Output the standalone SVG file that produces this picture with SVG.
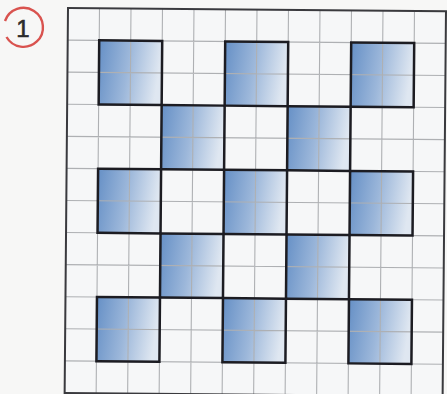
<svg xmlns="http://www.w3.org/2000/svg" width="447" height="394" viewBox="0 0 447 394">
<defs>
<linearGradient id="blue" x1="0" y1="0" x2="1" y2="0.15">
<stop offset="0" stop-color="#6690c6"/>
<stop offset="0.5" stop-color="#9cb7da"/>
<stop offset="1" stop-color="#dfe7f1"/>
</linearGradient>
<style>
.sq{fill:url(#blue)}
.bd{fill:none;stroke:#1c1c22;stroke-width:2.5}
.grid{fill:none;stroke:#aeb0b3;stroke-width:1.1}
.outer{fill:none;stroke:#3a3a3e;stroke-width:2}
</style>
</defs>
<rect x="0" y="0" width="447" height="394" fill="#f7f7f6"/>
<g id="badge">
<path d="M 6.5 37 A 19.5 19.5 0 1 0 5 21" fill="none" stroke="#d9534f" stroke-width="2.4"/>
<text x="23" y="36.5" font-family="Liberation Sans, Arial, sans-serif" font-size="24" fill="#2b2b2b" stroke="#2b2b2b" stroke-width="0.6" text-anchor="middle">1</text>
</g>
<g id="board" transform="rotate(0.5 68 8)">
<rect x="68" y="8" width="378" height="385" fill="#f6f7f8"/>
<g id="fills">
<rect class="sq" x="99.5" y="40.08" width="63" height="64.17"/>
<rect class="sq" x="225.5" y="40.08" width="63" height="64.17"/>
<rect class="sq" x="351.5" y="40.08" width="63" height="64.17"/>
<rect class="sq" x="162.5" y="104.25" width="63" height="64.17"/>
<rect class="sq" x="288.5" y="104.25" width="63" height="64.17"/>
<rect class="sq" x="99.5" y="168.42" width="63" height="64.17"/>
<rect class="sq" x="225.5" y="168.42" width="63" height="64.17"/>
<rect class="sq" x="351.5" y="168.42" width="63" height="64.17"/>
<rect class="sq" x="162.5" y="232.58" width="63" height="64.17"/>
<rect class="sq" x="288.5" y="232.58" width="63" height="64.17"/>
<rect class="sq" x="99.5" y="296.75" width="63" height="64.17"/>
<rect class="sq" x="225.5" y="296.75" width="63" height="64.17"/>
<rect class="sq" x="351.5" y="296.75" width="63" height="64.17"/>
</g>
<path class="grid" d="M99.5 8V393M131 8V393M162.5 8V393M194 8V393M225.5 8V393M257 8V393M288.5 8V393M320 8V393M351.5 8V393M383 8V393M414.5 8V393
M68 40.08H446M68 72.17H446M68 104.25H446M68 136.33H446M68 168.42H446M68 200.5H446M68 232.58H446M68 264.67H446M68 296.75H446M68 328.83H446M68 360.92H446"/>
<g id="borders">
<rect class="bd" x="99.5" y="40.08" width="63" height="64.17"/>
<rect class="bd" x="225.5" y="40.08" width="63" height="64.17"/>
<rect class="bd" x="351.5" y="40.08" width="63" height="64.17"/>
<rect class="bd" x="162.5" y="104.25" width="63" height="64.17"/>
<rect class="bd" x="288.5" y="104.25" width="63" height="64.17"/>
<rect class="bd" x="99.5" y="168.42" width="63" height="64.17"/>
<rect class="bd" x="225.5" y="168.42" width="63" height="64.17"/>
<rect class="bd" x="351.5" y="168.42" width="63" height="64.17"/>
<rect class="bd" x="162.5" y="232.58" width="63" height="64.17"/>
<rect class="bd" x="288.5" y="232.58" width="63" height="64.17"/>
<rect class="bd" x="99.5" y="296.75" width="63" height="64.17"/>
<rect class="bd" x="225.5" y="296.75" width="63" height="64.17"/>
<rect class="bd" x="351.5" y="296.75" width="63" height="64.17"/>
</g>
<rect class="outer" x="68" y="8" width="378" height="385"/>
</g>
</svg>
